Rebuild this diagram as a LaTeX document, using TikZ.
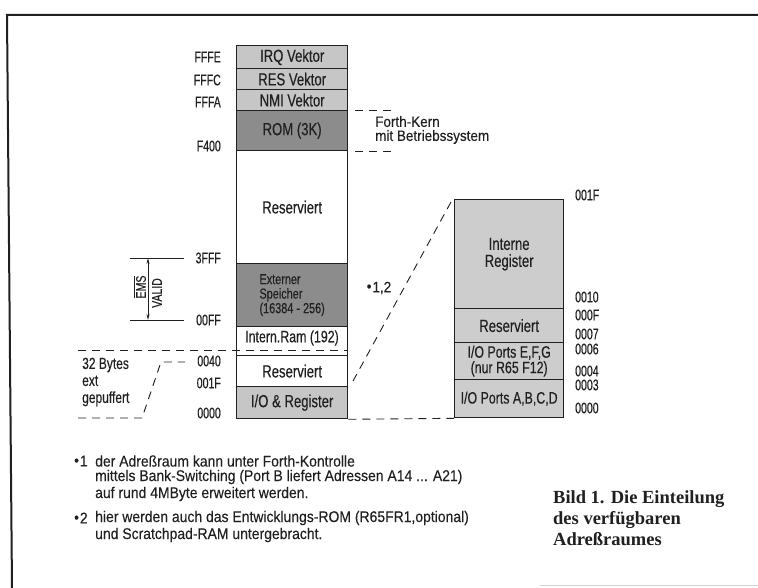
\documentclass[tikz,border=0pt]{standalone}
\usepackage{fontspec}
\setmainfont{Liberation Serif}
\newfontfamily\din[FakeStretch=0.75,FakeBold=0.3]{Liberation Sans}
\newfontfamily\dinn[FakeStretch=0.68,FakeBold=0.3]{Liberation Sans}
\newfontfamily\dinw[FakeStretch=0.9,FakeBold=0.2]{Liberation Sans}
\usetikzlibrary{arrows.meta,calc}
\definecolor{lgray}{HTML}{C6C6C6}
\definecolor{rgray}{HTML}{CDCDCD}
\definecolor{dgray}{HTML}{8C8C8C}
\definecolor{ink}{HTML}{202020}
\newcommand{\bul}{{\fontsize{15}{15}\selectfont\raisebox{0.1ex}{•}\hspace{1pt}}}
\tikzset{
  row/.style={draw=ink, line width=1.3pt, inner sep=0pt, anchor=north west,
    minimum width=111pt, align=center, text=ink,
    font=\din\fontsize{17.5}{17}\selectfont},
  rrow/.style={row, minimum width=109pt, fill=rgray},
  addrl/.style={anchor=east, inner sep=0pt, text=ink, font=\dinn\fontsize{15.5}{15}\selectfont},
  addrr/.style={anchor=west, inner sep=0pt, text=ink, font=\dinn\fontsize{15.5}{15}\selectfont},
  note/.style={anchor=west, inner sep=0pt, text=ink, align=left, font=\dinw\fontsize{14}{14}\selectfont},
  dline/.style={draw=ink, line width=0.9pt, dash pattern=on 8pt off 6pt},
  thin/.style={draw=ink, line width=0.9pt},
  foot/.style={anchor=west, inner sep=0pt, text=ink, font=\dinw\fontsize{15.5}{15.5}\selectfont},
  capt/.style={anchor=west, inner sep=0pt, align=left, text=ink,
    font=\bfseries\fontsize{18.5}{21}\selectfont}
}
\begin{document}
\begin{tikzpicture}[x=1pt,y=-1pt]
\useasboundingbox (0,0) rectangle (758,588);
\fill[white] (0,0) rectangle (758,588);
% frame
\draw[ink, line width=2pt] (12,588) -- (7,15) -- (758,15);
\draw[gray!35, line width=1pt] (540,585) -- (758,585);

% main column
\node[row, fill=lgray, minimum height=23pt] (irq) at (236,45) {IRQ Vektor};
\node[row, fill=lgray, minimum height=21pt] (res) at (236,68) {RES Vektor};
\node[row, fill=lgray, minimum height=21pt] (nmi) at (236,89) {NMI Vektor};
\node[row, fill=dgray, minimum height=40pt] (rom) at (236,110) {ROM (3K)};
\node[row, minimum height=113pt] (resv) at (236,150) {Reserviert};
\node[row, fill=dgray, minimum height=63pt, align=left,
      font=\din\fontsize{14.5}{14.5}\selectfont] (ext) at (236,263) {Externer\\Speicher\\(16384 - 256)};
\node[row, minimum height=29pt] (iram) at (236,326) {};
\node[inner sep=0pt, text=ink, font=\din\fontsize{16.5}{15}\selectfont] (iramt) at (292,338) {Intern.Ram (192)};
\node[row, minimum height=31pt] (resv2) at (236,355) {Reserviert};
\node[row, fill=lgray, minimum height=32pt] (io) at (236,386) {I/O \& Register};

% left addresses
\node[addrl] (aFFFE) at (221,57) {FFFE};
\node[addrl] (aFFFC) at (221,80) {FFFC};
\node[addrl] (aFFFA) at (221,102) {FFFA};
\node[addrl] (aF400) at (221,146) {F400};
\node[addrl] (a3FFF) at (221,258) {3FFF};
\node[addrl] (a00FF) at (221,320) {00FF};
\node[addrl] (a0040) at (221,361) {0040};
\node[addrl] (a001F) at (221,383) {001F};
\node[addrl] (a0000) at (221,413) {0000};

% Forth-Kern
\draw[dline] ($(rom.north east)+(7,0)$) -- ++(38,0);
\draw[dline] ($(rom.south east)+(7,0)$) -- ++(38,0);
\node[note, font=\dinw\fontsize{15}{14}\selectfont] (forth) at (375,130) {Forth-Kern\\mit Betriebssystem};

% EMS VALID dimension
\coordinate (d1a) at (130,258); \coordinate (d1b) at (184,258);
\coordinate (d2a) at (130,320); \coordinate (d2b) at (184,320);
\draw[thin] (d1a) -- (d1b);
\draw[thin] (d2a) -- (d2b);
\draw[thin, {Stealth[length=6pt,width=3pt]}-{Stealth[length=6pt,width=3pt]}] (148,258) -- (148,320);
\node[rotate=90, inner sep=0pt, text=ink, font=\din\fontsize{14}{14}\selectfont, fill=white] (ems) at (140,287) {$\overline{\hbox{EMS}}$};
\node[rotate=90, inner sep=0pt, text=ink, font=\din\fontsize{14}{14}\selectfont] (valid) at (157,293) {VALID};

% 32 Bytes ext gepuffert
\coordinate (b1) at (78,350);
\draw[dline] (b1) -- (iram.east |- b1);
\coordinate (c1) at (78,418);
\coordinate (c2) at (142,418);
\coordinate (c3) at (161,362);
\coordinate (c4) at (185,362);
\draw[dline] (c1) -- (c2) -- (c3) -- (c4);
\node[note, font=\din\fontsize{16}{17}\selectfont] (bytes) at (82,382) {32 Bytes\\ext\\gepuffert};

% right expanded box
\node[rrow, minimum height=109pt] (intreg) at (454,199) {Interne\\Register};
\node[rrow, minimum height=34pt] (resv3) at (454,308) {Reserviert};
\node[rrow, minimum height=37pt, font=\din\fontsize{16.5}{15.5}\selectfont] (iop1) at (454,342) {I/O Ports E,F,G\\(nur R65 F12)};
\node[rrow, minimum height=38pt, font=\din\fontsize{16.5}{15}\selectfont] (iop2) at (454,379) {I/O Ports A,B,C,D};

% right addresses
\node[addrr] (r001F) at (575,195) {001F};
\node[addrr] (r0010) at (575,297) {0010};
\node[addrr] (r000F) at (575,315) {000F};
\node[addrr] (r0007) at (575,334) {0007};
\node[addrr] (r0006) at (575,349) {0006};
\node[addrr] (r0004) at (575,371) {0004};
\node[addrr] (r0003) at (575,385) {0003};
\node[addrr] (r0000) at (575,408) {0000};

% zoom connectors
\coordinate (z1) at (353,381);
\draw[dline] (z1) -- ($(intreg.north west)+(-3,3)$);
\draw[dline] (io.south east) -- (iop2.south west);
\node[inner sep=0pt, text=ink, font=\dinw\fontsize{15}{15}\selectfont] (n12) at (379,288) {\bul1,2};

% footnotes
\node[foot] (f1b) at (74,461) {\bul1};
\node[foot] (f1a) at (95,461) {der Adreßraum kann unter Forth-Kontrolle};
\node[foot] (f1c) at (95,477) {mittels Bank-Switching (Port B liefert Adressen A14 ... A21)};
\node[foot] (f1d) at (95,494) {auf rund 4MByte erweitert werden.};
\node[foot] (f2b) at (74,518) {\bul2};
\node[foot] (f2a) at (95,518) {hier werden auch das Entwicklungs-ROM (R65FR1,optional)};
\node[foot] (f2c) at (95,535) {und Scratchpad-RAM untergebracht.};

% caption
\node[capt] (cap) at (553,518) {Bild 1. Die Einteilung\\des verfügbaren\\Adreßraumes};
\end{tikzpicture}
\end{document}
